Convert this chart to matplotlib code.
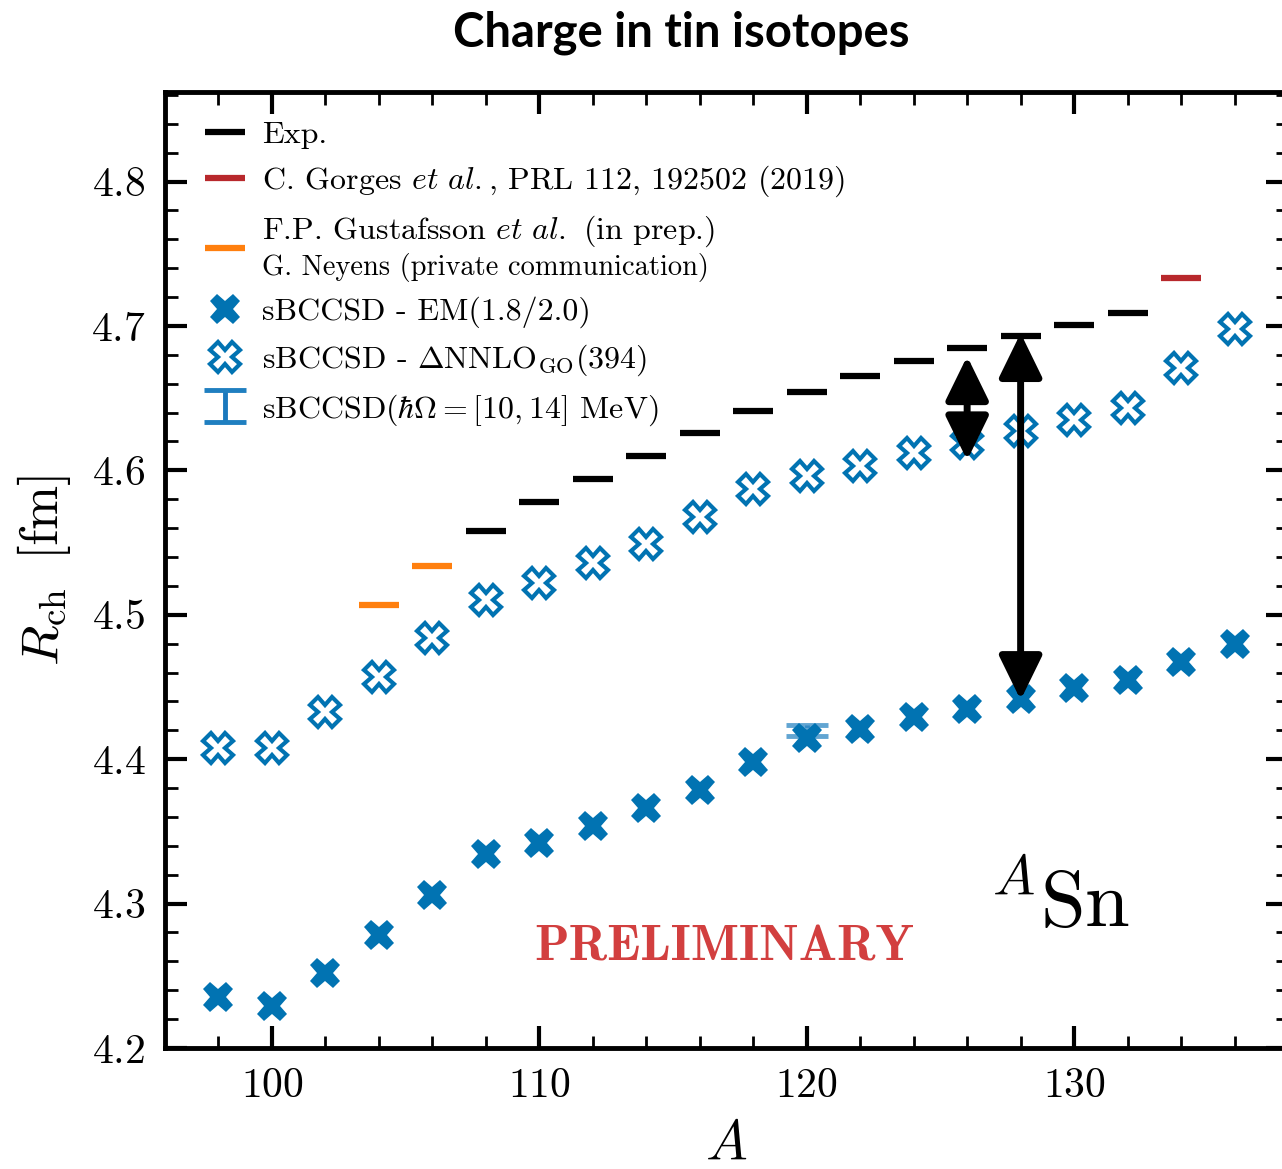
"""
Charge radii of tin isotopes: experiment vs sBCCSD
"""
import matplotlib
matplotlib.use("Agg")
import matplotlib.pyplot as plt
from matplotlib.ticker import MultipleLocator
from matplotlib.offsetbox import TextArea, VPacker

plt.rcParams['font.family'] = 'cmr10'
plt.rcParams['mathtext.fontset'] = 'cm'
plt.rcParams['axes.formatter.use_mathtext'] = True
plt.rcParams['axes.unicode_minus'] = False

# experiment
exp_A = [108, 110, 112, 114, 116, 118, 120, 122, 124, 126, 128, 130, 132]
exp_R = [4.558, 4.578, 4.594, 4.610, 4.626, 4.641, 4.654, 4.665, 4.676,
         4.685, 4.693, 4.701, 4.709]
gorges_A = [134]
gorges_R = [4.733]
gustaf_A = [104, 106]
gustaf_R = [4.507, 4.534]

# theory
th_A = [98, 100, 102, 104, 106, 108, 110, 112, 114, 116, 118, 120, 122,
        124, 126, 128, 130, 132, 134, 136]
em_R = [4.235, 4.229, 4.252, 4.278, 4.306, 4.334, 4.342, 4.354, 4.366,
        4.379, 4.398, 4.415, 4.421, 4.429, 4.435, 4.442, 4.449, 4.455,
        4.467, 4.480]
go_R = [4.408, 4.408, 4.433, 4.457, 4.484, 4.510, 4.522, 4.536, 4.549,
        4.568, 4.587, 4.596, 4.603, 4.612, 4.619, 4.627, 4.635, 4.643,
        4.671, 4.698]

# hbar omega spread
hw_A = [120]
hw_lo = [4.416]
hw_hi = [4.424]

# arrows (A, top, bottom)
arrow_A = [126, 128]
arrow_top = [4.679, 4.695]
arrow_bot = [4.607, 4.441]

blue = '#0173b2'

fig = plt.figure(figsize=(12.82, 11.69), dpi=100)
ax = fig.add_axes([165/1282, 121/1169, 1123/1282, 956/1169])

hw_mid = [(a + b) / 2 for a, b in zip(hw_lo, hw_hi)]
hw_err = [(b - a) / 2 for a, b in zip(hw_lo, hw_hi)]
eb = ax.errorbar(hw_A, hw_mid, yerr=hw_err, fmt='none', ecolor='#1f7fc0',
                 alpha=0.7, elinewidth=3.5, capsize=15, capthick=3.5,
                 zorder=2)

h_exp, = ax.plot(exp_A, exp_R, ls='none', marker='_', ms=29, mew=4.5,
                 color='k', zorder=3)
h_gor, = ax.plot(gorges_A, gorges_R, ls='none', marker='_', ms=29, mew=4.5,
                 color='#b8282c', zorder=3)
h_gus, = ax.plot(gustaf_A, gustaf_R, ls='none', marker='_', ms=29, mew=4.5,
                 color='#ff7f0e', zorder=3)
h_em, = ax.plot(th_A, em_R, ls='none', marker='X', ms=22, mew=0,
                color=blue, zorder=4)
h_go, = ax.plot(th_A, go_R, ls='none', marker='X', ms=21, mew=3,
                mfc='white', mec=blue, zorder=4)

for a, top, bot in zip(arrow_A, arrow_top, arrow_bot):
    ax.annotate('', xy=(a, bot), xytext=(a, top), zorder=5,
                arrowprops=dict(arrowstyle='<|-|>,head_length=0.45,head_width=0.22',
                                lw=5, color='k', mutation_scale=60,
                                shrinkA=0, shrinkB=0))

ax.set_xlim(96, 138)
ax.set_ylim(4.2, 4.862)
ax.xaxis.set_major_locator(MultipleLocator(10))
ax.xaxis.set_minor_locator(MultipleLocator(2))
ax.yaxis.set_major_locator(MultipleLocator(0.1))
ax.yaxis.set_minor_locator(MultipleLocator(0.02))
ax.tick_params(which='both', direction='in', top=True, right=True,
               labelsize=30)
ax.tick_params(which='major', length=16, width=3, pad=14)
ax.tick_params(which='minor', length=9, width=2)
for s in ax.spines.values():
    s.set_linewidth(3.5)

ax.set_xlabel('$A$', fontsize=40)
ax.xaxis.set_label_coords(0.5, -0.076)
ax.set_ylabel(r'$R_{\rm ch}\;\;[\rm fm]$', fontsize=38)
ax.yaxis.set_label_coords(-0.082, 0.5)

ax.text(116.9, 4.269, 'PRELIMINARY', family='cmb10', fontsize=36.5,
        color='#d23f3f', ha='center', va='center')
ax.text(126.8, 4.284, r'${}^{A}\mathrm{Sn}$', fontsize=58, va='baseline')

leg = ax.legend([h_exp, h_gor, h_gus, h_em, h_go, eb],
                ['Exp.',
                 'C. Gorges $\\mathit{et\\ al.}$, PRL 112, 192502 (2019)',
                 'F.P. Gustafsson $\\mathit{et\\ al.}$ (in prep.)',
                 'sBCCSD - EM(1.8/2.0)',
                 'sBCCSD - $\\Delta$NNLO$_{\\rm GO}$(394)',
                 'sBCCSD($\\hbar\\Omega = [10, 14]$ MeV)'],
                loc='upper left', bbox_to_anchor=(0.018, 0.99),
                frameon=False, fontsize=23, handlelength=1.3,
                handletextpad=0.5, labelspacing=0.45, numpoints=1,
                borderaxespad=0.2)

# legend rows: add the smaller second line under the Gustafsson entry
rows = leg._legend_handle_box.get_children()[0].get_children()
gus_row = rows[2]
hbox, tbox = gus_row.get_children()
neyens = TextArea('G. Neyens (private communication)',
                  textprops=dict(fontsize=20.5))
two_lines = VPacker(children=[tbox, neyens], align='left', pad=0, sep=3)
two_lines.set_figure(fig)
neyens.set_figure(fig)
gus_row._children = [hbox, two_lines]
gus_row.align = 'center'

# solid colour for the errorbar legend key
for art in rows[5].get_children()[0].get_children():
    art.set_alpha(1)
    art.set_color('#1a78bd')

fig.text(681/1282, 1 - 33/1169, 'Charge in tin isotopes', family='Lato',
         weight='bold', fontsize=34, ha='center', va='center')

fig.savefig('out.png', dpi=100)
